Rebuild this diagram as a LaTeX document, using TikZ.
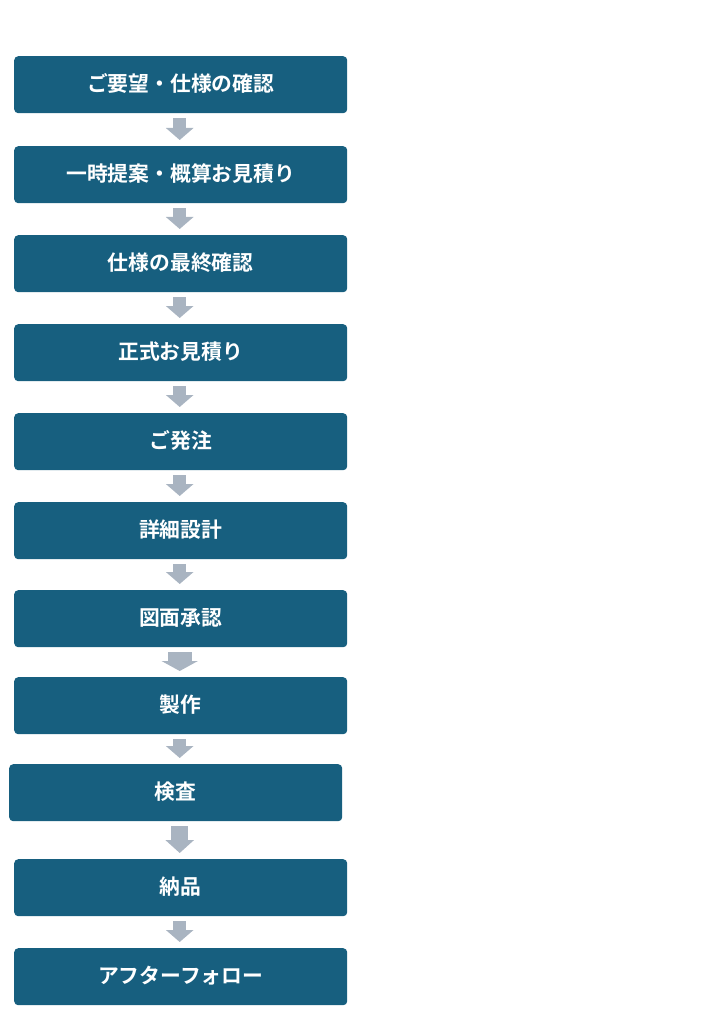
\documentclass[tikz,border=0pt]{standalone}
\usepackage{fontspec}
\newfontfamily\jp{Noto Sans CJK JP Bold}
\usetikzlibrary{arrows.meta}
\definecolor{boxblue}{RGB}{23,95,127}
\definecolor{arrgray}{RGB}{169,180,193}
\tikzset{
  stepbox/.style={rectangle, rounded corners=4pt, fill=boxblue, draw=none,
    minimum width=333pt, minimum height=57pt, inner sep=0pt, anchor=north west,
    text=white, font=\jp\fontsize{20.8}{20.8}\selectfont},
  flowarrow/.style={draw=arrgray, line width=13pt,
    -{Triangle[width=27pt,length=12pt]}, shorten <=5pt, shorten >=6pt},
}
\newcommand{\lbl}[1]{\raisebox{3.5pt}{#1}}
\begin{document}
\begin{tikzpicture}[x=1pt,y=-1pt]
\useasboundingbox (0,0) rectangle (709,1024);
\node[stepbox] (b1) at (14,56) {\lbl{ご要望・仕様の確認}};
\node[stepbox] (b2) at (14,146) {\lbl{一時提案・概算お見積り}};
\node[stepbox] (b3) at (14,235) {\lbl{仕様の最終確認}};
\node[stepbox] (b4) at (14,324) {\lbl{正式お見積り}};
\node[stepbox] (b5) at (14,413) {\lbl{ご発注}};
\node[stepbox] (b6) at (14,502) {\lbl{詳細設計}};
\node[stepbox] (b7) at (14,590) {\lbl{図面承認}};
\node[stepbox] (b8) at (14,677) {\lbl{製作}};
\node[stepbox] (b9) at (9,764) {\lbl{検査}};
\node[stepbox] (b10) at (14,859) {\lbl{納品}};
\node[stepbox] (b11) at (14,948) {\lbl{アフターフォロー}};
\draw[flowarrow] ([xshift=-1pt]b1.south) -- ([xshift=-1pt]b2.north);
\draw[flowarrow] ([xshift=-1pt]b2.south) -- ([xshift=-1pt]b3.north);
\draw[flowarrow] ([xshift=-1pt]b3.south) -- ([xshift=-1pt]b4.north);
\draw[flowarrow] ([xshift=-1pt]b4.south) -- ([xshift=-1pt]b5.north);
\draw[flowarrow] ([xshift=-1pt]b5.south) -- ([xshift=-1pt]b6.north);
\draw[flowarrow] ([xshift=-1pt]b6.south) -- ([xshift=-1pt]b7.north);
\draw[flowarrow, line width=24pt, -{Triangle[width=36pt,length=10pt]}] ([xshift=-1pt]b7.south) -- ([xshift=-1pt]b8.north);
\draw[flowarrow] ([xshift=-1pt]b8.south) -- ([xshift=4pt]b9.north);
\draw[flowarrow, line width=17pt, -{Triangle[width=28pt,length=13pt]}] ([xshift=4pt]b9.south) -- ([xshift=-1pt]b10.north);
\draw[flowarrow] ([xshift=-1pt]b10.south) -- ([xshift=-1pt]b11.north);
\end{tikzpicture}
\end{document}
